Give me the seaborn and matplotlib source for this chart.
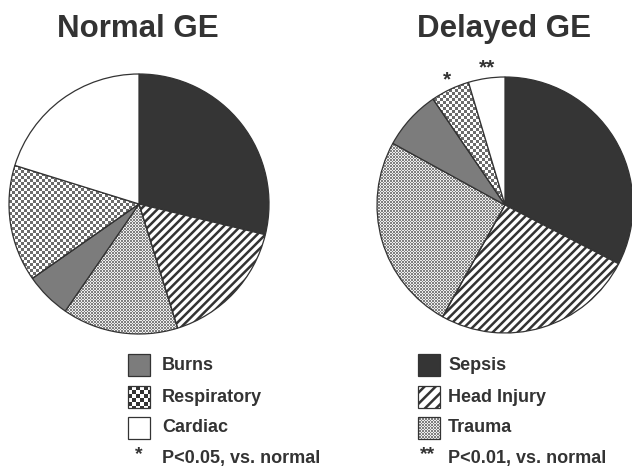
import seaborn as sns
import matplotlib.pyplot as plt
import numpy as np
from matplotlib.patches import Rectangle

# --- Styling ---
sns.set_style("white")
plt.rcParams['font.family'] = ['Liberation Sans', 'DejaVu Sans']
plt.rcParams['hatch.linewidth'] = 1.8
plt.rcParams['hatch.color'] = '#555555'

# --- Data (percent of patients) ---
categories = ["Sepsis", "Head Injury", "Trauma", "Burns", "Respiratory", "Cardiac"]
normal_ge = [28.8, 16.4, 14.4, 5.7, 14.5, 20.2]
delayed_ge = [32.6, 25.5, 24.9, 7.5, 4.9, 4.6]
delayed_marks = ["", "", "", "", "*", "**"]

INK = "#333333"


def checker(n, cell, dark=0.42):
    i, j = np.indices((n, n))
    return np.where(((i // cell) + (j // cell)) % 2 == 0, dark, 1.0)


def lattice(n):
    i, j = np.indices((n, n))
    on = ((i + j) % 3 == 0) | ((i - j) % 3 == 0)
    return np.where(on, 0.5, 0.93)


def styles():
    return {
        "Sepsis": dict(facecolor="#353535"),
        "Head Injury": dict(facecolor="white", hatch="////"),
        "Trauma": dict(facecolor="none", texture="lattice"),
        "Burns": dict(facecolor="#7c7c7c"),
        "Respiratory": dict(facecolor="none", texture="checker"),
        "Cardiac": dict(facecolor="white"),
    }


def draw_pie(ax, values, px, marks=None):
    wedges, _ = ax.pie(values, startangle=90, counterclock=False, radius=1,
                       wedgeprops=dict(edgecolor=INK, linewidth=0.9))
    st = styles()
    for w, cat in zip(wedges, categories):
        s = st[cat]
        w.set_facecolor(s["facecolor"])
        if "hatch" in s:
            w.set_hatch(s["hatch"])
        if "texture" in s:
            tex = checker(px, 3) if s["texture"] == "checker" else lattice(px)
            im = ax.imshow(tex, cmap="gray", vmin=0, vmax=1, extent=(-1, 1, -1, 1),
                           interpolation="nearest", zorder=0.5)
            im.set_clip_path(w)
            w.set_zorder(1)
    if marks:
        for w, m in zip(wedges, marks):
            if m:
                a = np.deg2rad((w.theta1 + w.theta2) / 2)
                ax.text(1.1 * np.cos(a) + 0.02, 1.1 * np.sin(a) - 0.02, m, ha="center",
                        va="center", fontsize=15, fontweight="bold", color=INK)
    ax.set_xlim(-1, 1)
    ax.set_ylim(-1, 1)
    ax.set_aspect("auto")
    ax.axis("off")


fig = plt.figure(figsize=(6.32, 4.68), dpi=100)
W, H = 632, 468

ax1 = fig.add_axes([9 / W, 1 - 334 / H, 260 / W, 260 / H])
draw_pie(ax1, normal_ge, 260)
ax2 = fig.add_axes([377 / W, 1 - 333 / H, 256 / W, 256 / H])
draw_pie(ax2, delayed_ge, 256, delayed_marks)

# --- Titles ---
fig.text(138 / W, 1 - 37 / H, "Normal GE", ha="center", va="baseline",
         fontsize=22.5, fontweight="bold", color=INK)
fig.text(504 / W, 1 - 37 / H, "Delayed GE", ha="center", va="baseline",
         fontsize=22.5, fontweight="bold", color=INK)

# --- Legend (drawn in pixel coordinates) ---
lg = fig.add_axes([0, 0, 1, 1], zorder=5)
lg.set_xlim(0, W)
lg.set_ylim(H, 0)
lg.axis("off")

left_items = ["Burns", "Respiratory", "Cardiac"]
right_items = ["Sepsis", "Head Injury", "Trauma"]
rows_y = [365, 397, 428]
st = styles()
for col_x, gap, items in [(128, 34, left_items), (418, 30, right_items)]:
    for cat, y in zip(items, rows_y):
        s = st[cat]
        hatch = "///" if s.get("hatch") else None
        r = Rectangle((col_x, y - 11), 22, 22, facecolor=s["facecolor"],
                      edgecolor=INK, linewidth=0.9, hatch=hatch, zorder=2)
        lg.add_patch(r)
        if "texture" in s:
            tex = checker(22, 4, 0.2) if s["texture"] == "checker" else lattice(22)
            im = lg.imshow(tex, cmap="gray", vmin=0, vmax=1,
                           extent=(col_x, col_x + 22, y + 11, y - 11),
                           interpolation="nearest", zorder=1)
            im.set_clip_path(r)
        lg.text(col_x + gap, y, cat, ha="left", va="center", fontsize=13,
                fontweight="bold", color=INK)

lg.text(139, 455, "*", ha="center", va="center", fontsize=14, fontweight="bold", color=INK)
lg.text(162, 459, "P<0.05, vs. normal", ha="left", va="center", fontsize=13,
        fontweight="bold", color=INK)
lg.text(428, 455, "**", ha="center", va="center", fontsize=14, fontweight="bold", color=INK)
lg.text(448, 459, "P<0.01, vs. normal", ha="left", va="center", fontsize=13,
        fontweight="bold", color=INK)
lg.set_aspect("auto")

fig.savefig("out.png", dpi=100)
